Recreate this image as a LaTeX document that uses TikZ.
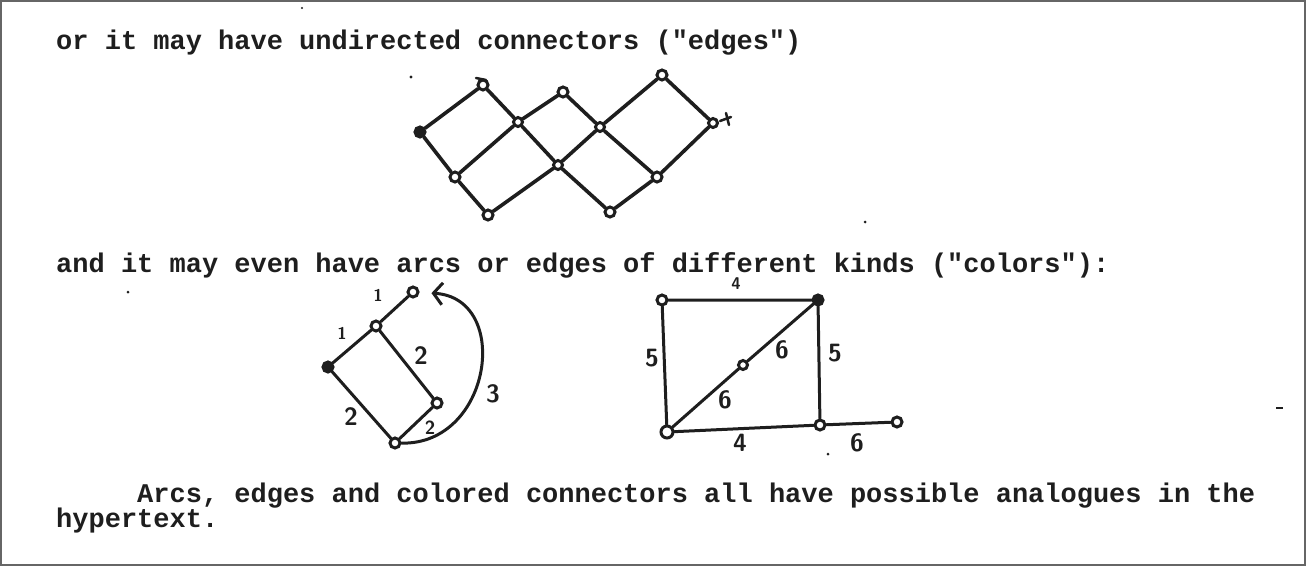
\documentclass[tikz,border=0pt]{standalone}
\usepackage{fontspec}
\newfontfamily\typewr{Liberation Mono}
\usetikzlibrary{arrows.meta}
\definecolor{ink}{HTML}{1E1E1E}
\definecolor{framegray}{HTML}{666666}
\tikzset{
  txt/.style={anchor=base west, inner sep=0pt, text=ink, font=\typewr\bfseries\fontsize{27}{30}\selectfont},
  vtx/.style={circle, draw=ink, fill=white, inner sep=0pt, minimum size=10pt, line width=3pt},
  vtxs/.style={vtx, minimum size=9pt},
  vtxf/.style={vtx, fill=ink},
  edg/.style={draw=ink, line width=3.6pt, line cap=round},
  edgt/.style={draw=ink, line width=3pt, line cap=round},
  lbl/.style={inner sep=0pt, text=ink, font=\sffamily\bfseries\fontsize{25}{25}\selectfont},
  lblm/.style={inner sep=0pt, text=ink, font=\sffamily\bfseries\fontsize{19}{19}\selectfont},
  lbls/.style={inner sep=0pt, text=ink, font=\sffamily\bfseries\fontsize{17}{17}\selectfont},
  speck/.style={fill=ink, draw=none}
}
\begin{document}
\begin{tikzpicture}[x=1pt, y=-1pt]
\useasboundingbox (0,0) rectangle (1307,566);
\draw[framegray, line width=2pt] (1,1) rectangle (1305,565);

% texts
\node[txt] (t1) at (56,49) {or it may have undirected connectors ("edges")};
\node[txt] (t2) at (56,272) {and it may even have arcs or edges of different kinds ("colors"):};
\node[txt] (t3) at (56,502) {\ \ \ \ \ Arcs, edges and colored connectors all have possible analogues in the};
\node[txt] (t4) at (56,527) {hypertext.};

% lattice
\node[vtxf] (A) at (420,132) {};
\node[vtx] (B) at (483,85) {};
\node[vtxs] (C) at (518,122) {};
\node[vtx] (D) at (563,92) {};
\node[vtxs] (E) at (600,127) {};
\node[vtx] (F) at (662,75) {};
\node[vtxs] (G) at (713,123) {};
\node[vtx] (H) at (455,177) {};
\node[vtxs] (I) at (558,165) {};
\node[vtx] (J) at (657,177) {};
\node[vtx] (K) at (488,215) {};
\node[vtx] (L) at (610,212) {};
\path[edg] (A) -- (B) (B) -- (C) (C) -- (D) (D) -- (E) (E) -- (F) (F) -- (G)
  (A) -- (H) (H) -- (C) (C) -- (I) (I) -- (E) (E) -- (J) (G) -- (J)
  (H) -- (K) (K) -- (I) (I) -- (L) (L) -- (J);
\draw[ink, line width=2.5pt, line cap=round] (476,78) -- (486,80);
\draw[ink, line width=2.5pt, line cap=round] (720,121) -- (731,117) (726,113) -- (729,125);

% directed graph
\node[vtx] (P1) at (413,292) {};
\node[vtx] (P2) at (376,326) {};
\node[vtxf] (P3) at (328,367) {};
\node[vtx] (P4) at (437,403) {};
\node[vtx] (P5) at (395,443) {};
\path[edgt] (P2) -- (P1) (P3) -- (P2) (P2) -- (P4) (P3) -- (P5) (P5) -- (P4);
\draw[edgt, -{Straight Barb[length=9pt, width=22pt]}, shorten >=12pt]
  (P5) .. controls (492,445) and (512,298) .. (P1);
\node[lbls] (l1) at (378,295) {1};
\node[lbls] (l2) at (342,333) {1};
\node[lbl] (l3) at (421,356) {2};
\node[lbl] (l4) at (351,417) {2};
\node[lblm] (l5) at (430,428) {2};
\node[lbl] (l6) at (493,394) {3};

% colored graph
\node[vtx] (Q1) at (662,300) {};
\node[vtxf] (Q2) at (818,300) {};
\node[vtx, minimum size=12pt] (Q3) at (667,432) {};
\node[vtx] (Q4) at (820,425) {};
\node[vtxs] (Q5) at (743,365) {};
\node[vtx] (Q6) at (897,422) {};
\path[edgt] (Q1) -- (Q2) (Q1) -- (Q3) (Q2) -- (Q4) (Q3) -- (Q5) (Q5) -- (Q2)
  (Q3) -- (Q4) (Q4) -- (Q6);
\node[lbls] (m1) at (736,284) {4};
\node[lbl] (m2) at (652,358) {5};
\node[lbl] (m3) at (835,353) {5};
\node[lbl] (m4) at (725,400) {6};
\node[lbl] (m5) at (782,350) {6};
\node[lbl] (m6) at (740,443) {4};
\node[lbl] (m7) at (857,443) {6};

% specks
\fill[speck] (411,77) circle (1.6);
\fill[speck] (865,222) circle (1.5);
\fill[speck] (128,292) circle (1.5);
\fill[speck] (828,454) circle (1.5);
\fill[speck] (302,8) circle (1.2);
\fill[speck] (1276,407) rectangle (1283,409);
\end{tikzpicture}
\end{document}
